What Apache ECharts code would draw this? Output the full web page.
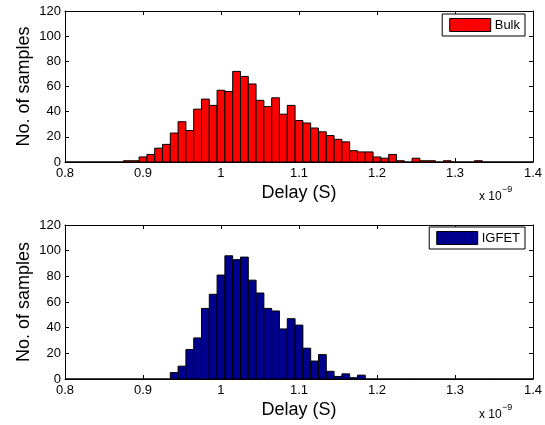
<!DOCTYPE html>
<html>
<head>
<meta charset="utf-8">
<script src="https://cdn.jsdelivr.net/npm/echarts@6/dist/echarts.min.js"></script>
<style>
html,body{margin:0;padding:0;background:#fff;}
#chart{width:545px;height:425px;}
</style>
</head>
<body>
<div id="chart"></div>
<script>
// bin centres (x 1e-9 s), width 0.01
var binWidth = 0.01;
var binCenters = [0.80,0.81,0.82,0.83,0.84,0.85,0.86,0.87,0.88,0.89,
	0.90,0.91,0.92,0.93,0.94,0.95,0.96,0.97,0.98,0.99,
	1.00,1.01,1.02,1.03,1.04,1.05,1.06,1.07,1.08,1.09,
	1.10,1.11,1.12,1.13,1.14,1.15,1.16,1.17,1.18,1.19,
	1.20,1.21,1.22,1.23,1.24,1.25,1.26,1.27,1.28,1.29,
	1.30,1.31,1.32,1.33,1.34,1.35,1.36,1.37,1.38,1.39,1.40];
var bulkCounts = [0,0,0,0,0,0,0,0,1,1,
	4,6,11,14,23,32,25,42,50,45,
	57,56,72,68,62,49,44,51,38,45,
	33,31,27,24,21,18,16,9,8,8,
	4,3,6,1,0,3,1,1,0,1,
	0,0,0,1,0,0,0,0,0,0,0];
var igfetCounts = [0,0,0,0,0,0,0,0,0,0,
	0,0,0,0,5,10,23,32,55,66,
	81,96,93,95,77,67,55,53,39,47,
	42,24,14,19,6,2,4,1,3,0,
	0,0,0,0,0,0,0,0,0,0,
	0,0,0,0,0,0,0,0,0,0,0];
var xTicks = [0.8,0.9,1,1.1,1.2,1.3,1.4];
var yTicks = [0,20,40,60,80,100,120];

var font = '"Liberation Sans", Arial, Helvetica, sans-serif';

function pairs(counts){
	var out = [];
	for(var i = 0;i<binCenters.length;i++){
		out.push([binCenters[i],counts[i]]);
	}
	return out;
}
function renderBin(params,api){
	var x = api.value(0);
	var y = api.value(1);
	var p0 = api.coord([x - binWidth/2, y]);
	var p1 = api.coord([x + binWidth/2, 0]);
	return {
		type:'rect',
		shape:{x:p0[0],y:p0[1],width:p1[0]-p0[0],height:p1[1]-p0[1]},
		style:api.style({stroke:'#000',lineWidth:1})
	};
}
function xAx(grid,pos,labels){
	return {
		type:'value',gridIndex:grid,position:pos,
		min:xTicks[0],max:xTicks[xTicks.length-1],interval:0.1,
		axisLine:{show:true,onZero:false,lineStyle:{color:'#000',width:1}},
		axisTick:{show:true,inside:true,length:4,lineStyle:{color:'#000'}},
		axisLabel:{show:labels,color:'#000',fontSize:13,fontFamily:font,margin:5},
		splitLine:{show:false},
		name:labels?'Delay (S)':'',nameLocation:'middle',nameGap:22,nameMoveOverlap:false,
		nameTextStyle:{color:'#000',fontSize:18,fontFamily:font}
	};
}
function yAx(grid,pos,labels){
	return {
		type:'value',gridIndex:grid,position:pos,
		min:yTicks[0],max:yTicks[yTicks.length-1],interval:20,
		axisLine:{show:true,lineStyle:{color:'#000',width:1}},
		axisTick:{show:true,inside:true,length:4,lineStyle:{color:'#000'}},
		axisLabel:{show:labels,color:'#000',fontSize:13,fontFamily:font,margin:4},
		splitLine:{show:false},
		name:labels?'No. of samples':'',nameLocation:'middle',nameGap:32,nameMoveOverlap:false,
		nameTextStyle:{color:'#000',fontSize:18,fontFamily:font}
	};
}
function legendBox(name,color,top){
	return {
		right:20,top:top,orient:'vertical',
		data:[{name:name,icon:'rect',itemStyle:{color:color,borderColor:'#000',borderWidth:1}}],
		itemWidth:41,itemHeight:13,itemGap:0,
		padding:[4,5,4,7],
		borderColor:'#000',borderWidth:1,backgroundColor:'#fff',
		textStyle:{color:'#000',fontSize:13,fontFamily:font,padding:[0,0,0,-1]},
		selectedMode:false
	};
}
function scaleText(top){
	return [
		{type:'text',left:479,top:top,style:{text:'x 10',fill:'#000',fontSize:12,fontFamily:font}},
		{type:'text',left:502,top:top-6,style:{text:'\u22129',fill:'#000',fontSize:9,fontFamily:font}}
	];
}

var chart = echarts.init(document.getElementById('chart'));
var option = {
	animation:false,
	backgroundColor:'#fff',
	grid:[
		{left:65,top:11,width:470,height:151},
		{left:65,top:225,width:470,height:154}
	],
	xAxis:[xAx(0,'bottom',true),xAx(0,'top',false),xAx(1,'bottom',true),xAx(1,'top',false)],
	yAxis:[yAx(0,'left',true),yAx(0,'right',false),yAx(1,'left',true),yAx(1,'right',false)],
	legend:[legendBox('Bulk','#ff0000',14),legendBox('IGFET','#00008f',227)],
	graphic:scaleText(191).concat(scaleText(409)),
	series:[
		{
			name:'Bulk',type:'custom',xAxisIndex:0,yAxisIndex:0,
			renderItem:renderBin,clip:true,
			itemStyle:{color:'#ff0000'},
			encode:{x:0,y:1},
			data:pairs(bulkCounts)
		},
		{
			name:'IGFET',type:'custom',xAxisIndex:2,yAxisIndex:2,
			renderItem:renderBin,clip:true,
			itemStyle:{color:'#00008f'},
			encode:{x:0,y:1},
			data:pairs(igfetCounts)
		}
	]
};
chart.setOption(option);
</script>
</body>
</html>
